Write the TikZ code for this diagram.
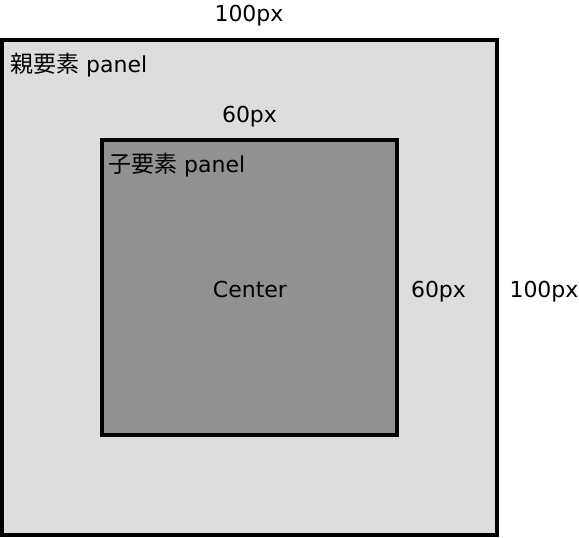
\documentclass[tikz,border=0pt]{standalone}
\usepackage{fontspec}
\setmainfont{DejaVu Sans}
\newfontfamily\jpfont{Noto Sans CJK JP}
\begin{document}
\begin{tikzpicture}[x=1pt,y=-1pt,
  panelbox/.style={draw=black, line width=4pt, inner sep=0pt, outer sep=0pt},
  lbl/.style={font=\fontsize{22}{26}\selectfont, inner sep=0pt, text=black}]
\useasboundingbox (0,0) rectangle (579,538);
\node[panelbox, fill={rgb,255:red,221;green,221;blue,221}, minimum width=495pt, minimum height=495.5pt] (outer) at (249.5,287.25) {};
\node[panelbox, fill={rgb,255:red,145;green,145;blue,145}, minimum width=295pt, minimum height=295pt] (inner) at (249.5,287.5) {};
\node[lbl, anchor=base] (w100) at (249,21) {100px};
\node[lbl, anchor=base] (w60) at (249.5,122) {60px};
\node[lbl, anchor=base] (h60) at (438.5,297) {60px};
\node[lbl, anchor=base] (h100) at (544,297) {100px};
\node[lbl, anchor=base] (center) at (250,297) {Center};
\node[lbl, anchor=base west] (parent) at (10,72) {{\jpfont\fontsize{23}{26}\selectfont 親要素} panel};
\node[lbl, anchor=base west] (child) at (108,172) {{\jpfont\fontsize{23}{26}\selectfont 子要素} panel};
\end{tikzpicture}
\end{document}
